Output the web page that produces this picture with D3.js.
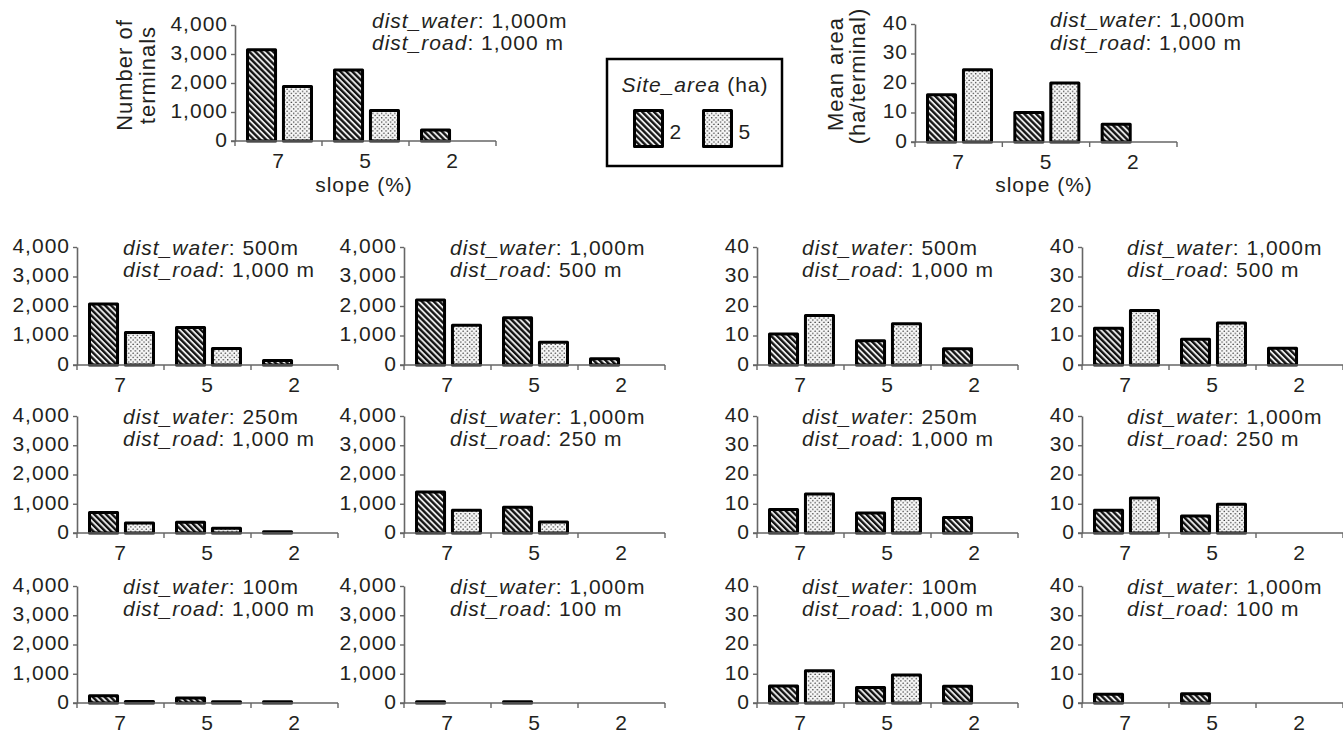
<!DOCTYPE html>
<html><head><meta charset="utf-8">
<script src="https://cdn.jsdelivr.net/npm/d3@7"></script>
<style>
body{margin:0;background:#fff}
svg text{font-family:"Liberation Sans",Arial,sans-serif;fill:#231f20;letter-spacing:1px}
</style></head><body>
<svg id="c" width="1343" height="734"></svg>
<script>
// ---------- data ----------
const slopes = ["7", "5", "2"];
const siteAreas = ["2", "5"];
const countTicks = [0, 1000, 2000, 3000, 4000];
const areaTicks = [0, 10, 20, 30, 40];

// Number of terminals by slope (7,5,2): site_area 2 ha / 5 ha
const cntBase2 = [3150, 2450, 380],  cntBase5 = [1880, 1050, 0];
const cntW500_2 = [2070, 1270, 150], cntW500_5 = [1100, 560, 0];
const cntR500_2 = [2200, 1600, 210], cntR500_5 = [1350, 770, 0];
const cntW250_2 = [700, 370, 40],    cntW250_5 = [340, 160, 0];
const cntR250_2 = [1400, 880, 0],    cntR250_5 = [780, 380, 0];
const cntW100_2 = [250, 170, 40],    cntW100_5 = [50, 40, 0];
const cntR100_2 = [40, 40, 0],       cntR100_5 = [0, 0, 0];

// Mean area (ha/terminal) by slope (7,5,2): site_area 2 ha / 5 ha
const areaBase2 = [16, 10, 6],        areaBase5 = [24.5, 20, 0];
const areaW500_2 = [10.5, 8.2, 5.5],  areaW500_5 = [16.8, 14, 0];
const areaR500_2 = [12.5, 8.7, 5.7],  areaR500_5 = [18.5, 14.2, 0];
const areaW250_2 = [8, 6.8, 5.3],     areaW250_5 = [13.3, 11.8, 0];
const areaR250_2 = [7.8, 5.8, 0],     areaR250_5 = [12, 9.8, 0];
const areaW100_2 = [5.8, 5.3, 5.7],   areaW100_5 = [11, 9.6, 0];
const areaR100_2 = [3, 3.2, 0],       areaR100_5 = [0, 0, 0];

// scenario labels: base, water500, road500, water250, road250, water100, road100
const waterLabels = ["1,000m", "500m", "1,000m", "250m", "1,000m", "100m", "1,000m"];
const roadLabels  = ["1,000 m", "1,000 m", "500 m", "1,000 m", "250 m", "1,000 m", "100 m"];

// ---------- drawing ----------
const svg = d3.select("#c");
const defs = svg.append("defs");

const stripe = defs.append("pattern").attr("id", "stripe")
  .attr("patternUnits", "userSpaceOnUse").attr("width", 4.2).attr("height", 4.2)
  .attr("patternTransform", "rotate(-45)");
stripe.append("rect").attr("width", 4.2).attr("height", 4.2).attr("fill", "#111");
stripe.append("rect").attr("x", 2.3).attr("width", 1.9).attr("height", 4.2).attr("fill", "#e8e8e8");

const dots = defs.append("pattern").attr("id", "dots")
  .attr("patternUnits", "userSpaceOnUse").attr("width", 4.4).attr("height", 4.4);
dots.append("rect").attr("width", 4.4).attr("height", 4.4).attr("fill", "#f7f7f7");
dots.append("circle").attr("cx", 1.1).attr("cy", 1.1).attr("r", 0.75).attr("fill", "#333");
dots.append("circle").attr("cx", 3.3).attr("cy", 3.3).attr("r", 0.75).attr("fill", "#333");

const fills = {"2": "url(#stripe)", "5": "url(#dots)"};
const AX = "#666";

function panel(o) {
  const g = svg.append("g");
  const y = d3.scaleLinear().domain([0, o.ticks[o.ticks.length - 1]]).range([o.yb, o.yt]);
  const xb = d3.scaleBand().domain(slopes).range([o.x0, o.x0 + o.w]);
  const x1 = d3.scaleBand().domain(siteAreas).range([12.5, 76.5]).paddingInner(0.22);
  const fs = o.fs || 21;

  // y axis
  const ya = g.append("g").attr("transform", `translate(${o.x0},0)`)
    .call(d3.axisLeft(y).tickValues(o.ticks).tickSize(4).tickSizeOuter(0).tickPadding(3)
      .tickFormat(o.fmt));
  ya.select(".domain").attr("stroke", AX).attr("stroke-width", 1.6);
  ya.selectAll(".tick line").attr("stroke", AX).attr("stroke-width", 1.4);
  ya.selectAll(".tick text").attr("font-size", fs).attr("dy", "0.25em");

  // bars
  const recs = [];
  slopes.forEach((s, i) => {
    recs.push({s, a: "2", v: o.s2[i]});
    recs.push({s, a: "5", v: o.s5[i]});
  });
  g.selectAll("rect.bar").data(recs.filter(d => d.v > 0)).join("rect")
    .attr("class", "bar")
    .attr("x", d => xb(d.s) + x1(d.a))
    .attr("width", x1.bandwidth())
    .attr("y", d => y(d.v))
    .attr("height", d => y(0) - y(d.v))
    .attr("fill", d => fills[d.a])
    .attr("stroke", "#000").attr("stroke-width", 3).attr("stroke-linejoin", "round");

  // x axis
  const xa = g.append("g").attr("transform", `translate(0,${o.yb})`)
    .call(d3.axisBottom(xb).tickSize(0).tickPadding(12));
  xa.select(".domain").remove();
  xa.selectAll(".tick text").attr("font-size", fs);
  const bounds = slopes.map(s => xb(s)).concat([o.x0 + o.w]);
  g.append("line").attr("x1", o.x0 - 4).attr("x2", o.x0 + o.w).attr("y1", o.yb).attr("y2", o.yb)
    .attr("stroke", AX).attr("stroke-width", 1.6);
  g.selectAll("line.bt").data(bounds).join("line").attr("class", "bt")
    .attr("x1", d => d).attr("x2", d => d).attr("y1", o.yb).attr("y2", o.yb + 5)
    .attr("stroke", AX).attr("stroke-width", 1.4);

  // annotation
  const t1 = g.append("text").attr("x", o.x0 + o.ax).attr("y", o.yt + o.ay1).attr("font-size", fs);
  t1.append("tspan").attr("font-style", "italic").text("dist_water");
  t1.append("tspan").text(": " + o.water);
  const t2 = g.append("text").attr("x", o.x0 + o.ax).attr("y", o.yt + o.ay2).attr("font-size", fs);
  t2.append("tspan").attr("font-style", "italic").text("dist_road");
  t2.append("tspan").text(": " + o.road);
  return g;
}

const fmtCount = d3.format(",");
const fmtArea = d3.format("d");

// top charts
panel({x0: 235, w: 261, yt: 25, yb: 141, ticks: countTicks, fmt: fmtCount,
  s2: cntBase2, s5: cntBase5, water: waterLabels[0], road: roadLabels[0], ax: 137, ay1: 3, ay2: 25});
panel({x0: 915, w: 262, yt: 24, yb: 142, ticks: areaTicks, fmt: fmtArea,
  s2: areaBase2, s5: areaBase5, water: waterLabels[0], road: roadLabels[0], ax: 135, ay1: 3, ay2: 26});

// small multiples
const rowTop = [247, 416, 586], rowBot = [365, 533, 703];
const colX = [77, 404, 757, 1082];
const cnt2 = [[cntW500_2, cntR500_2], [cntW250_2, cntR250_2], [cntW100_2, cntR100_2]];
const cnt5 = [[cntW500_5, cntR500_5], [cntW250_5, cntR250_5], [cntW100_5, cntR100_5]];
const ar2 = [[areaW500_2, areaR500_2], [areaW250_2, areaR250_2], [areaW100_2, areaR100_2]];
const ar5 = [[areaW500_5, areaR500_5], [areaW250_5, areaR250_5], [areaW100_5, areaR100_5]];
for (let r = 0; r < 3; r++) {
  for (let c = 0; c < 2; c++) {
    const li = 1 + r * 2 + c;
    panel({x0: colX[c], w: 261, yt: rowTop[r], yb: rowBot[r], ticks: countTicks, fmt: fmtCount,
      s2: cnt2[r][c], s5: cnt5[r][c], water: waterLabels[li], road: roadLabels[li],
      ax: 46, ay1: 8, ay2: 30});
    panel({x0: colX[c + 2], w: 261, yt: rowTop[r], yb: rowBot[r], ticks: areaTicks, fmt: fmtArea,
      s2: ar2[r][c], s5: ar5[r][c], water: waterLabels[li], road: roadLabels[li],
      ax: 45, ay1: 8, ay2: 30});
  }
}

// axis titles
function vtitle(x, y, txt) {
  svg.append("text").attr("transform", `translate(${x},${y}) rotate(-90)`)
    .attr("text-anchor", "middle").attr("font-size", 22).text(txt);
}
vtitle(132, 75, "Number of");
vtitle(155, 75, "terminals");
vtitle(843, 74, "Mean area");
vtitle(865, 76, "(ha/terminal)");
svg.append("text").attr("x", 364).attr("y", 192).attr("text-anchor", "middle").attr("font-size", 21).text("slope (%)");
svg.append("text").attr("x", 1044).attr("y", 192).attr("text-anchor", "middle").attr("font-size", 21).text("slope (%)");

// legend
const lg = svg.append("g");
lg.append("rect").attr("x", 607).attr("y", 59).attr("width", 175).attr("height", 107)
  .attr("fill", "#fff").attr("stroke", "#000").attr("stroke-width", 2.5);
const lt = lg.append("text").attr("x", 695).attr("y", 92).attr("text-anchor", "middle").attr("font-size", 21);
lt.append("tspan").attr("font-style", "italic").text("Site_area");
lt.append("tspan").text(" (ha)");
const lx = d3.scalePoint().domain(siteAreas).range([634.5, 703.5]);
lg.selectAll("rect.sw").data(siteAreas).join("rect").attr("class", "sw")
  .attr("x", d => lx(d)).attr("y", 110.5).attr("width", 28).attr("height", 36)
  .attr("fill", d => fills[d]).attr("stroke", "#000").attr("stroke-width", 3).attr("stroke-linejoin", "round");
lg.selectAll("text.sl").data(siteAreas).join("text").attr("class", "sl")
  .attr("x", d => lx(d) + 35).attr("y", 139).attr("font-size", 21).text(d => d);
</script>
</body></html>
